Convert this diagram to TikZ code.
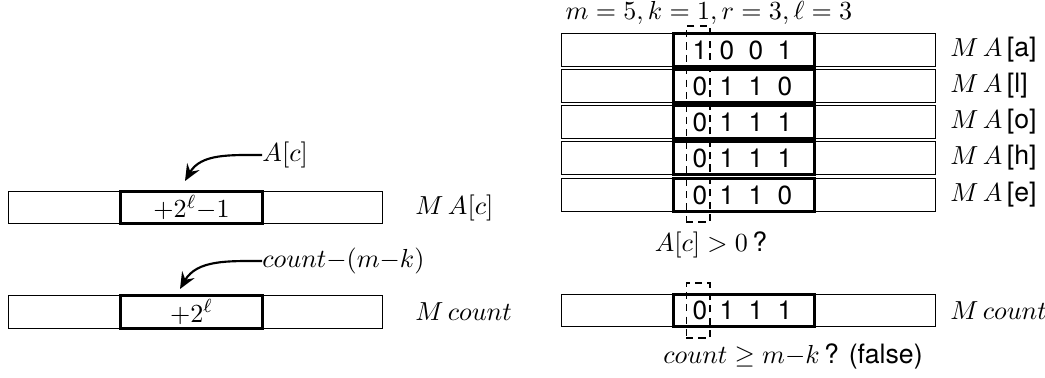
\documentclass[tikz,border=0pt]{standalone}
\usepackage{fontspec}
\setsansfont{TeX Gyre Heros}
\usepackage{amsmath}
\usepackage{amssymb}
\usetikzlibrary{arrows.meta}

\begin{document}
\begin{tikzpicture}[x=0.42pt, y=-0.42pt,
    font=\fontsize{11.2}{13.5}\selectfont,
    bar/.style={
        draw,
        line width=0.5pt,
        minimum width=157pt,
        minimum height=13.6pt,
        inner sep=0pt
      },
    cell/.style={
        draw,
        line width=1.3pt,
        minimum width=59.4pt,
        minimum height=13.6pt,
        inner sep=0pt
      },
    sel/.style={
        draw,
        dash pattern=on 3pt off 2.2pt,
        line width=0.5pt,
        minimum width=10pt,
        inner sep=0pt
      },
    bit/.style={font=\sffamily\fontsize{11}{13}\selectfont, inner sep=0pt},
    lbl/.style={anchor=west, inner sep=0pt},
    arr/.style={-{Stealth[length=7pt, width=6pt, inset=2.5pt]}, line width=0.9pt}
  ]
  \useasboundingbox (0,0) rectangle (1045,377);

  \node[bar] (mac_bar) at (195.5,207.5) {};
  \node[cell] (mac_cell) at (191.5,207.5) {$+2^{\ell}{-}1$};
  \node[lbl] (mac_lbl) at (415,207.5) {$M\,A[c]$};
  \node[lbl] (ac) at (262,155) {$A[c]$};
  \coordinate (ac_tip) at (185,181);
  \draw[arr] (ac.west) to[out=180, in=60] (ac_tip);

  \node[bar] (mcnt_bar) at (195.5,312) {};
  \node[cell] (mcnt_cell) at (191.5,312) {$+2^{\ell}$};
  \node[lbl] (mcnt_lbl) at (415,312) {$M\,count$};
  \node[lbl] (cnt) at (262,261) {$count{-}(m{-}k)$};
  \coordinate (cnt_tip) at (180,289);
  \draw[arr] (cnt.west) to[out=180, in=60] (cnt_tip);

  \node (params) at (709,13) {$m=5, k=1, r=3, \ell=3$};
  \foreach \ch/\y/\a/\b/\c/\d in {a/50/1/0/0/1, l/86/0/1/1/0, o/122/0/1/1/1, h/158/0/1/1/1, e/195/0/1/1/0} {
      \node[bar] (ma_\ch) at (748.5,\y) {};
      \node[cell] (cell_\ch) at (744,\y) {};
      \node[bit] (bit_\ch_1) at (700,\y) {\a};
      \node[bit] (bit_\ch_2) at (727,\y) {\b};
      \node[bit] (bit_\ch_3) at (756,\y) {\c};
      \node[bit] (bit_\ch_4) at (785,\y) {\d};
      \node[lbl] (lbl_\ch) at (950,\y) {$M\,A$\,\textsf{[\ch]}};
    }
  \node[sel, minimum height=82.3pt] (sel_a) at (698,124) {};
  \node (test_a) at (711,245) {$A[c]>0$\,\textsf{?}};

  \node[bar] (mc_bar) at (748.5,310.5) {};
  \node[cell] (mc_cell) at (744,310.5) {};
  \node[bit] (mc_1) at (700,310.5) {0};
  \node[bit] (mc_2) at (727,310.5) {1};
  \node[bit] (mc_3) at (756,310.5) {1};
  \node[bit] (mc_4) at (785,310.5) {1};
  \node[lbl] (mc_lbl) at (950,310.5) {$M\,count$};
  \node[sel, minimum height=23.1pt] (sel_c) at (698,310.5) {};
  \node[lbl] (test_c) at (663,356) {$count \geq m{-}k$\,\textsf{? (false)}};
\end{tikzpicture}
\end{document}
